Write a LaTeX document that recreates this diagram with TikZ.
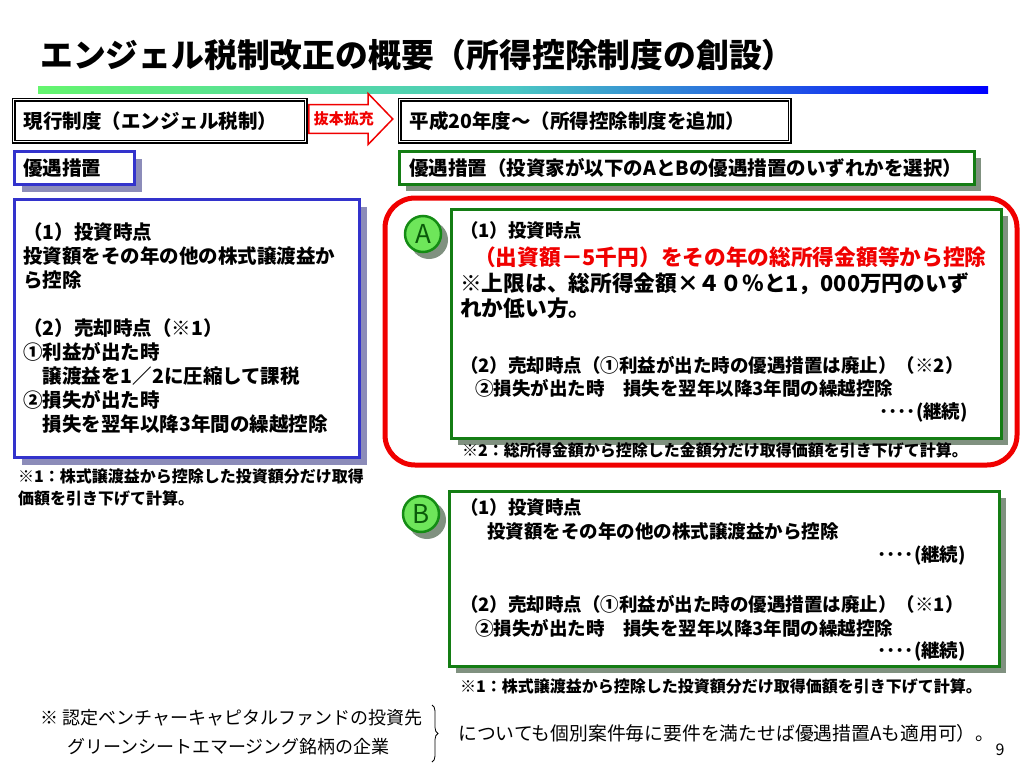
\documentclass[tikz,border=0pt]{standalone}
\usepackage{fontspec}
\setmainfont{Noto Sans CJK JP}
\usepackage{tikz}
\usetikzlibrary{shapes.arrows,shadows,decorations.pathreplacing,positioning}

\definecolor{BoxBlue}{RGB}{51,51,204}
\definecolor{ShadeBlue}{RGB}{140,140,185}
\definecolor{BoxGreen}{RGB}{20,125,20}
\definecolor{ShadeGreen}{RGB}{128,145,128}
\definecolor{BallGreen}{RGB}{110,230,90}
\definecolor{BallRim}{RGB}{20,140,20}
\definecolor{TextGreen}{RGB}{10,90,10}
\definecolor{FrameRed}{RGB}{240,0,0}
\definecolor{BarGreen}{RGB}{100,245,110}
\definecolor{BarTeal}{RGB}{75,200,195}
\definecolor{BarBlue}{RGB}{0,0,255}

\newcommand\jptitle{\fontsize{32.8}{36}\selectfont\bfseries}
\newcommand\jphead{\fontsize{19.5}{23}\selectfont\bfseries}
\newcommand\jpleft{\fontsize{19.5}{24}\selectfont\bfseries}
\newcommand\jpbody{\fontsize{18.5}{23}\selectfont\bfseries}
\newcommand\jpbig{\fontsize{21.7}{25}\selectfont\bfseries}
\newcommand\jpnote{\fontsize{16}{22}\selectfont\bfseries}
\newcommand\jpplain{\fontsize{18}{22}\selectfont}
\newcommand\jparrow{\fontsize{15}{15}\selectfont\bfseries}

\begin{document}
\begin{tikzpicture}[x=1pt,y=-1pt,
	framebox/.style={draw, double, double distance=1.6pt, line width=1.2pt, anchor=north west,
		inner xsep=10pt, inner ysep=0pt, minimum height=42pt, align=left, font=\jphead},
	bluebox/.style={draw=BoxBlue, line width=2.5pt, fill=white, anchor=north west,
		inner xsep=9pt, inner ysep=0pt, align=left,
		drop shadow={shadow xshift=8pt, shadow yshift=-8pt, fill=ShadeBlue, opacity=1}},
	greenbox/.style={draw=BoxGreen, line width=2.5pt, fill=white, anchor=north west,
		inner xsep=10pt, inner ysep=0pt, align=left,
		drop shadow={shadow xshift=7pt, shadow yshift=-7pt, fill=ShadeGreen, opacity=1}},
	markball/.style={circle, draw=BallRim, line width=2.5pt, fill=BallGreen, text=TextGreen,
		minimum size=36pt, inner sep=0pt, font=\fontsize{26}{26}\selectfont},
	ballshade/.style={fill=ShadeGreen},
	txtline/.style={anchor=west, inner sep=0pt, font=\jpbody},
	fnote/.style={anchor=west, inner sep=0pt, font=\jpnote}]

	\useasboundingbox (0,0) rectangle (1024,768);

	% title and bar
	\node (title) at (40,55) [anchor=west, inner sep=0pt, font=\jptitle] {エンジェル税制改正の概要（所得控除制度の創設）};
	\shade [left color=BarGreen, right color=BarBlue, middle color=BarTeal] (38,86) rectangle (988,93);

	% headers
	\node (curbox)  at (13,99)  [framebox, minimum width=292pt, text width=272pt] {現行制度（エンジェル税制）};
	\node (newbox)  at (399,99) [framebox, minimum width=390pt, text width=370pt] {平成20年度～（所得控除制度を追加）};
	\node (bapponarrow) at (308,119) [single arrow, draw=FrameRed, line width=1.5pt, fill=white, text=FrameRed,
		anchor=west, minimum height=84pt, minimum width=50pt, single arrow head extend=11pt,
		single arrow tip angle=92, inner xsep=0.5pt, inner ysep=6.5pt, font=\jparrow] {抜本拡充};

	\node (curhead) at (13,150)  [bluebox, minimum width=120pt, minimum height=33pt, text width=102pt, font=\jphead] {優遇措置};
	\node (newhead) at (398,150) [greenbox, minimum width=575pt, minimum height=33pt, text width=555pt, font=\jphead] {優遇措置（投資家が以下のAとBの優遇措置のいずれかを選択）};

	% current system
	\node (curbody) at (13,198) [bluebox, minimum width=345pt, minimum height=258pt, text width=327pt, font=\jpleft]
		{（1）投資時点\\投資額をその年の他の株式譲渡益か\\ら控除\\[24pt]（2）売却時点（※1）\\①利益が出た時\\　譲渡益を1／2に圧縮して課税\\②損失が出た時\\　損失を翌年以降3年間の繰越控除};
	\node (curnote) at (18,469) [anchor=north west, inner sep=0pt, align=left, font=\jpnote]
		{※1：株式譲渡益から控除した投資額分だけ取得\\価額を引き下げて計算。};

	% option A
	\node (aframe) at (701,331.5) [draw=FrameRed, line width=5pt, rounded corners=30pt, minimum width=632pt, minimum height=267pt] {};
	\node (abox)  at (450,208) [greenbox, minimum width=550pt, minimum height=229pt] {};
	\fill [ballshade] (429,240) circle (19);
	\node (amark) at (423,234) [markball] {A};
	\node (a1) at (460,230) [txtline] {（1）投資時点};
	\node (a2) at (474,257) [txtline, font=\jpbig, text=FrameRed] {（出資額－5千円）をその年の総所得金額等から控除};
	\node (a3) at (460,273) [anchor=north west, inner sep=0pt, align=left, font=\jpbig] {※上限は、総所得金額×４０％と1，000万円のいず\\れか低い方。};
	\node (a4) at (460,365) [txtline] {（2）売却時点（①利益が出た時の優遇措置は廃止）（※2）};
	\node (a5) at (475,388) [txtline] {②損失が出た時　損失を翌年以降3年間の繰越控除};
	\node (a6) at (968,412) [txtline, anchor=east] {････(継続)};
	\node (anote) at (462,450) [fnote] {※2：総所得金額から控除した金額分だけ取得価額を引き下げて計算。};

	% option B
	\node (bbox)  at (448,490) [greenbox, minimum width=550pt, minimum height=175pt] {};
	\fill [ballshade] (427,520) circle (19);
	\node (bmark) at (421,514) [markball] {B};
	\node (b1) at (460,507) [txtline] {（1）投資時点};
	\node (b2) at (487,531) [txtline] {投資額をその年の他の株式譲渡益から控除};
	\node (b3) at (966,555) [txtline, anchor=east] {････(継続)};
	\node (b4) at (460,604) [txtline] {（2）売却時点（①利益が出た時の優遇措置は廃止）（※1）};
	\node (b5) at (475,628) [txtline] {②損失が出た時　損失を翌年以降3年間の繰越控除};
	\node (b6) at (966,651) [txtline, anchor=east] {････(継続)};
	\node (bnote) at (460,686) [fnote] {※1：株式譲渡益から控除した投資額分だけ取得価額を引き下げて計算。};

	% bottom remark
	\node (vcfund) at (40,718) [anchor=west, inner sep=0pt, font=\jpplain] {※ 認定ベンチャーキャピタルファンドの投資先};
	\node (greensheet) at (67,747) [anchor=west, inner sep=0pt, font=\jpplain] {グリーンシートエマージング銘柄の企業};
	\coordinate (bracetop) at (432,705);
	\coordinate (bracebot) at (432,762);
	\draw [decorate, decoration={brace, amplitude=6pt}, line width=0.8pt] (bracetop) -- (bracebot);
	\node (applyA) at (458,733) [anchor=west, inner sep=0pt, font=\fontsize{18.8}{22}\selectfont] {についても個別案件毎に要件を満たせば優遇措置Aも適用可）。};
	\node (pageno) at (1000,750) [inner sep=0pt, font=\fontsize{16}{16}\selectfont] {9};
\end{tikzpicture}
\end{document}
